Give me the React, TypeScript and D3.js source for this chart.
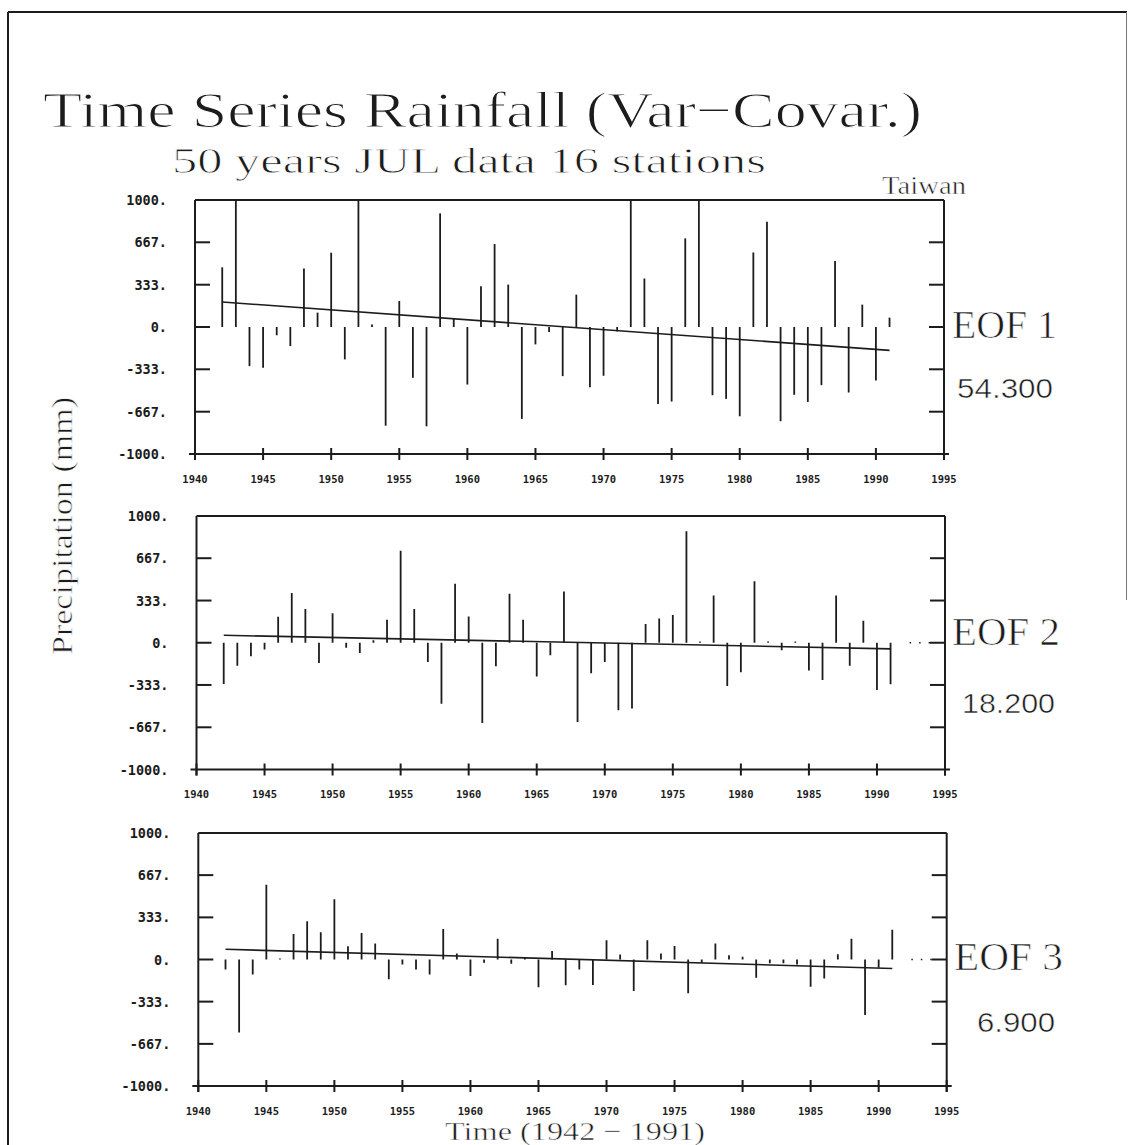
import React from 'react';
import * as d3 from 'd3';

const years = [
  1942, 1943, 1944, 1945, 1946, 1947, 1948, 1949, 1950, 1951,
  1952, 1953, 1954, 1955, 1956, 1957, 1958, 1959, 1960, 1961,
  1962, 1963, 1964, 1965, 1966, 1967, 1968, 1969, 1970, 1971,
  1972, 1973, 1974, 1975, 1976, 1977, 1978, 1979, 1980, 1981,
  1982, 1983, 1984, 1985, 1986, 1987, 1988, 1989, 1990, 1991,
];

// EOF 1 (values at the top border are clipped in the original)
const eof1 = [
  470, 1000, -308, -321, -65, -150, 461, 113, 585, -255,
  1000, 20, -777, 205, -400, -782, 895, 66, -453, 321,
  653, 334, -724, -137, -40, -387, 255, -474, -384, -35,
  1000, 382, -606, -587, 698, 1000, -537, -566, -703, 587,
  829, -742, -534, -590, -458, 519, -516, 176, -421, 74,
];

const eof2 = [
  -325, -181, -107, -53, 205, 392, 266, -160, 232, -40,
  -80, 20, 181, 725, 266, -152, -482, 466, 208, -634,
  -186, 386, 181, -266, -99, 405, -626, -240, -152, -533,
  -519, 147, 192, 218, 879, 10, 373, -341, -232, 485,
  10, -60, 10, -218, -293, 373, -181, 173, -373, -328,
];

const eof3 = [
  -79, -577, -118, 590, 8, 202, 302, 215, 477, 105,
  210, 126, -157, -39, -79, -118, 241, 47, -131, -26,
  165, -34, 20, -220, 68, -204, -79, -202, 152, 39,
  -249, 152, 47, 107, -267, -25, 126, 34, 21, -144,
  -30, -30, -40, -215, -150, 42, 165, -438, -65, 236,
];

const series = [eof1, eof2, eof3];
const trendStart = [197, 59, 81];
const trendEnd = [-184, -48, -71];
const eofLabels = ['EOF 1', 'EOF 2', 'EOF 3'];
const varianceLabels = ['54.300', '18.200', '6.900'];

const yTickValues = [1000, 667, 333, 0, -333, -667, -1000];
const yTickLabels = ['1000.', '667.', '333.', '0.', '-333.', '-667.', '-1000.'];
const xTickValues = [1940, 1945, 1950, 1955, 1960, 1965, 1970, 1975, 1980, 1985, 1990, 1995];

const titleText = 'Time Series Rainfall (Var−Covar.)';
const subtitleText = '50 years JUL data 16 stations';
const regionText = 'Taiwan';
const yAxisTitle = 'Precipitation (mm)';
const xAxisTitle = 'Time (1942 − 1991)';

const layout = [
  { x0: 195, x1: 944, top: 200, bottom: 454, eof: { x: 952, y: 338, w: 105 }, vr: { x: 957, y: 398, w: 96 }, dots: false },
  { x0: 196.5, x1: 945, top: 516, bottom: 769.5, eof: { x: 952, y: 645, w: 108 }, vr: { x: 962, y: 713, w: 93 }, dots: true },
  { x0: 198.3, x1: 946.7, top: 833, bottom: 1086, eof: { x: 954, y: 970, w: 109 }, vr: { x: 977, y: 1032, w: 78 }, dots: true },
];

const INK = '#1c1c1c';
const SERIF = '"Liberation Serif", "Times New Roman", serif';
const SANS = '"Liberation Sans", Arial, sans-serif';
const MONO = '"DejaVu Sans Mono", "Liberation Mono", monospace';

// thin the serif glyphs a little to resemble the plotter's stroke font
const thin = (w: number) => ({ stroke: '#fff', strokeWidth: w, paintOrder: 'normal' as const });

function Panel({ idx }: { idx: number }) {
  const L = layout[idx];
  const values = series[idx];
  const x = d3.scaleLinear().domain([1940, 1995]).range([L.x0, L.x1]);
  const y = d3.scaleLinear().domain([-1000, 1000]).range([L.bottom, L.top]);
  const clipId = `clip-${idx}`;
  const inner = yTickValues.filter((v) => Math.abs(v) < 1000);
  return (
    <g>
      <defs>
        <clipPath id={clipId}>
          <rect x={L.x0} y={L.top} width={L.x1 - L.x0} height={L.bottom - L.top} />
        </clipPath>
      </defs>
      <g clipPath={`url(#${clipId})`}>
        {years.map((yr, i) => (
          <line key={yr} x1={x(yr)} x2={x(yr)} y1={y(0)} y2={y(values[i])} stroke={INK} strokeWidth={1.8} />
        ))}
        <line x1={x(years[0])} x2={x(years[years.length - 1])} y1={y(trendStart[idx])} y2={y(trendEnd[idx])} stroke={INK} strokeWidth={1.6} />
      </g>
      {L.dots && (
        <line x1={x(1992.4)} x2={x(1994.3)} y1={y(0)} y2={y(0)} stroke={INK} strokeWidth={1.3} strokeDasharray="1.5 8" />
      )}
      {/* frame */}
      <line x1={L.x0} x2={L.x1} y1={L.top} y2={L.top} stroke={INK} strokeWidth={2} />
      <line x1={L.x0} x2={L.x0} y1={L.top} y2={L.bottom + 6} stroke={INK} strokeWidth={2} />
      <line x1={L.x1} x2={L.x1} y1={L.top} y2={L.bottom + 6} stroke={INK} strokeWidth={2} />
      <line x1={L.x0 - 6} x2={L.x1 + 5} y1={L.bottom} y2={L.bottom} stroke={INK} strokeWidth={2} />
      {inner.map((v) => (
        <g key={v}>
          <line x1={L.x0} x2={L.x0 + 15} y1={y(v)} y2={y(v)} stroke={INK} strokeWidth={2} />
          <line x1={L.x1 - 15} x2={L.x1} y1={y(v)} y2={y(v)} stroke={INK} strokeWidth={2} />
        </g>
      ))}
      {xTickValues.map((v) => (
        <line key={v} x1={x(v)} x2={x(v)} y1={L.bottom - 6} y2={L.bottom + 6} stroke={INK} strokeWidth={2} />
      ))}
      {yTickValues.map((v, i) => (
        <text key={v} x={L.x0 - 28} y={y(v) + 5} textAnchor="end" fontFamily={MONO} fontWeight="bold" fontSize={13.5} fill={INK}>
          {yTickLabels[i]}
        </text>
      ))}
      {xTickValues.map((v) => (
        <text key={v} x={x(v)} y={L.bottom + 28.5} textAnchor="middle" fontFamily={MONO} fontWeight="bold" fontSize={10.5} fill={INK}>
          {String(v)}
        </text>
      ))}
      <text x={L.eof.x} y={L.eof.y} fontFamily={SERIF} fontSize={39} fill={INK} textLength={L.eof.w} lengthAdjust="spacingAndGlyphs" {...thin(0.7)}>
        {eofLabels[idx]}
      </text>
      <text x={L.vr.x} y={L.vr.y} fontFamily={SANS} fontSize={28} fill={INK} textLength={L.vr.w} lengthAdjust="spacingAndGlyphs" {...thin(0.5)}>
        {varianceLabels[idx]}
      </text>
    </g>
  );
}

export default function App() {
  return (
    <svg width={1128} height={1145} viewBox="0 0 1128 1145" style={{ position: 'absolute', left: 0, top: 0, background: '#fff' }}>
      <rect x={0} y={0} width={1128} height={1145} fill="#fff" />
      <line x1={8} x2={1127} y1={12} y2={12} stroke={INK} strokeWidth={2} />
      <line x1={8} x2={8} y1={12} y2={1145} stroke={INK} strokeWidth={2} />
      <line x1={1126.5} x2={1126.5} y1={12} y2={600} stroke="#777" strokeWidth={1} />

      <text x={43} y={127} fontFamily={SERIF} fontSize={51} fill={INK} textLength={879} lengthAdjust="spacingAndGlyphs" {...thin(1.1)}>
        {titleText}
      </text>
      <text x={172} y={173} fontFamily={SERIF} fontSize={36} fill={INK} textLength={594} lengthAdjust="spacingAndGlyphs" {...thin(0.8)}>
        {subtitleText}
      </text>
      <text x={882} y={194} fontFamily={SERIF} fontSize={26} fill={INK} textLength={84} lengthAdjust="spacingAndGlyphs" {...thin(0.5)}>
        {regionText}
      </text>

      {[0, 1, 2].map((i) => (
        <Panel key={i} idx={i} />
      ))}

      <text
        transform="translate(72,526) rotate(-90)"
        textAnchor="middle"
        fontFamily={SERIF}
        fontSize={29}
        fill={INK}
        textLength={258}
        lengthAdjust="spacingAndGlyphs"
        {...thin(0.6)}
      >
        {yAxisTitle}
      </text>
      <text x={445} y={1140} fontFamily={SERIF} fontSize={26} fill={INK} textLength={260} lengthAdjust="spacingAndGlyphs" {...thin(0.5)}>
        {xAxisTitle}
      </text>
    </svg>
  );
}
